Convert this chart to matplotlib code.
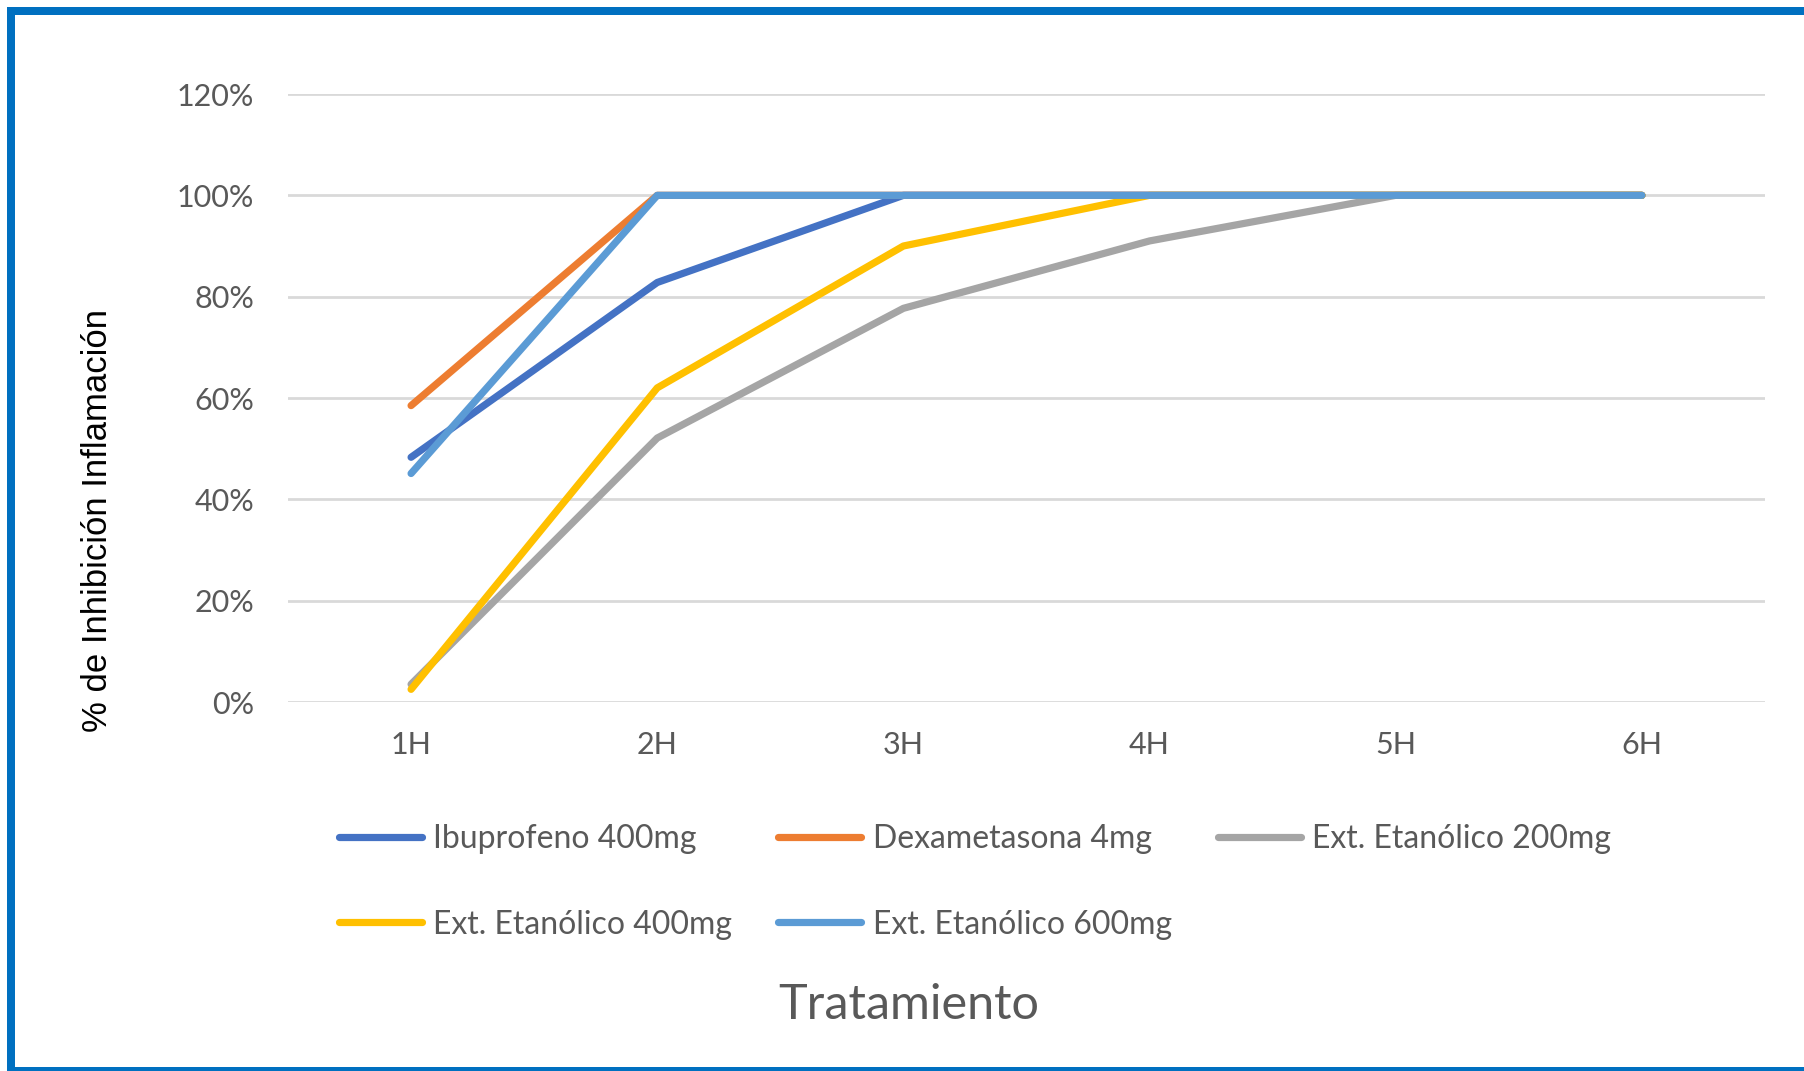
import numpy as np
import matplotlib.pyplot as plt
from matplotlib.patches import Rectangle
from matplotlib.ticker import PercentFormatter

horas = ['1H', '2H', '3H', '4H', '5H', '6H']
ibuprofeno = [48.3, 82.8, 100, 100, 100, 100]
dexametasona = [58.5, 100, 100, 100, 100, 100]
ext200 = [3.5, 52.1, 77.7, 91.0, 100, 100]
ext400 = [2.5, 62.0, 90.0, 100, 100, 100]
ext600 = [45.1, 100, 100, 100, 100, 100]

nombres = ['Ibuprofeno 400mg', 'Dexametasona 4mg', 'Ext. Etanólico 200mg',
           'Ext. Etanólico 400mg', 'Ext. Etanólico 600mg']
colores = ['#4472C4', '#ED7D31', '#A5A5A5', '#FFC000', '#5B9BD5']
gris = '#595959'

plt.rcParams['font.family'] = ['Lato', 'DejaVu Sans']

fig = plt.figure(figsize=(18.04, 10.71), dpi=100)
ax = fig.add_axes([288/1804, 1-702/1071, (1765-288)/1804, (702-94)/1071])

x = np.arange(len(horas))
lineas = []
for serie, nombre, c in zip([ibuprofeno, dexametasona, ext200, ext400, ext600], nombres, colores):
    l, = ax.plot(x, np.array(serie)/100, color=c, lw=5.2, solid_capstyle='round',
                 solid_joinstyle='round', label=nombre, zorder=3)
    lineas.append(l)

ax.set_xlim(-0.5, 5.5)
ax.set_ylim(0, 1.2)
ax.set_yticks(np.arange(0, 1.21, 0.2))
ax.yaxis.set_major_formatter(PercentFormatter(1.0, decimals=0))
ax.set_xticks(x)
ax.set_xticklabels(horas)
ax.grid(axis='y', color='#D9D9D9', lw=2)
ax.set_axisbelow(True)
for s in ax.spines.values():
    s.set_visible(False)
ax.tick_params(length=0, labelsize=22, colors=gris, pad=24.5)
ax.tick_params(axis='x', pad=21)

fig.text(98/1804, 1-520/1071, '% de Inhibición Inflamación', rotation=90,
         ha='center', va='center', fontsize=25, family=['Liberation Sans'], color='black')
fig.text(909/1804, 1-1005/1071, 'Tratamiento', ha='center', va='center',
         fontsize=35, color=gris)

# orden por columnas para que las filas queden como en el original
orden = [0, 3, 1, 4, 2]
fig.legend([lineas[i] for i in orden], [nombres[i] for i in orden], ncol=3,
           loc='upper left', bbox_to_anchor=(310/1804, 1-795.5/1071), frameon=False,
           fontsize=23, labelcolor=gris, handlelength=2.6, handletextpad=0.35,
           columnspacing=1.45, labelspacing=1.73)

# marco azul
fig.add_artist(Rectangle((7/1804, 0), 8/1804, 1-7/1071, transform=fig.transFigure,
                         color='#0070C0', lw=0))
fig.add_artist(Rectangle((7/1804, 1-15/1071), 1, 8/1071, transform=fig.transFigure,
                         color='#0070C0', lw=0))
fig.add_artist(Rectangle((7/1804, 0), 1, 4/1071, transform=fig.transFigure,
                         color='#0070C0', lw=0))

fig.savefig('out.png', dpi=100)
